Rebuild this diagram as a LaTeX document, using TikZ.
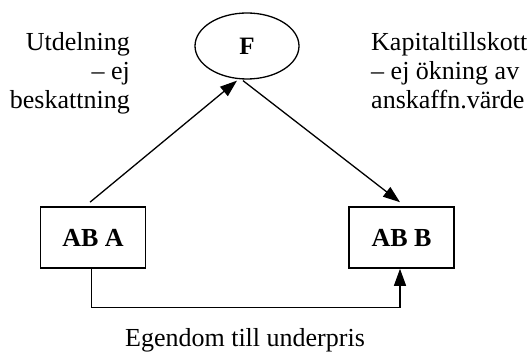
\documentclass[tikz,border=0pt]{standalone}
\usepackage{fontspec}
\setmainfont{Liberation Serif}
\usetikzlibrary{arrows.meta,shapes.geometric}
\begin{document}
\begin{tikzpicture}[x=1pt,y=-1pt,
  txt/.style={inner sep=0pt,font=\fontsize{26}{29}\selectfont},
  boxnode/.style={draw,line width=1.6pt,minimum width=105pt,minimum height=61pt,inner sep=0pt,font=\fontsize{26}{29}\selectfont\bfseries},
  ellnode/.style={draw,ellipse,line width=1.3pt,minimum width=104pt,minimum height=66pt,inner sep=0pt,font=\fontsize{25}{28}\selectfont\bfseries},
  arr/.style={line width=1.3pt,-{Triangle[length=17pt,width=12pt]}},
  plain/.style={line width=1.3pt}]
\useasboundingbox (0,0) rectangle (532,352);
\node[ellnode] (F) at (247,46) {F};
\node[boxnode] (A) at (93,237.5) {AB A};
\node[boxnode] (B) at (401.5,237.5) {AB B};
\node[txt,align=right,anchor=north east] (L) at (130,32.2) {Utdelning\\– ej\\beskattning};
\node[txt,align=left,anchor=north west] (R) at (371,32.2) {Kapitaltillskott\\– ej ökning av\\anskaffn.värde};
\node[txt,anchor=base] (E) at (245,346) {Egendom till underpris};
\draw[arr] ([xshift=-3pt,yshift=4pt]A.north) -- ([xshift=-10pt,yshift=-1pt]F.south);
\draw[arr] ([xshift=-4pt,yshift=-1pt]F.south) -- ([xshift=-1.5pt,yshift=4pt]B.north);
\draw[arr] ([xshift=-1.5pt]A.south) -- ++(0,39) -| ([xshift=-1.5pt]B.south);
\end{tikzpicture}
\end{document}
